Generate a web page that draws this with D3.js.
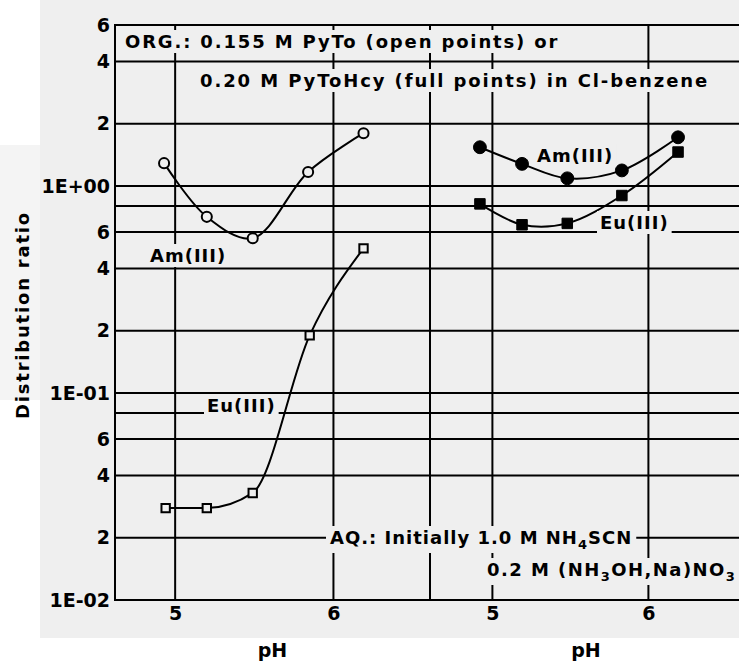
<!DOCTYPE html>
<html>
<head>
<meta charset="utf-8">
<script src="https://cdn.jsdelivr.net/npm/d3@7"></script>
<style>
  body { margin: 0; background: #fff; }
  text { font-family: "DejaVu Sans", sans-serif; font-weight: bold; }
</style>
</head>
<body>
<div class="chartBoard"></div>
<script>
// open points: 0.155 M PyTo
const phOpen = [4.93, 5.20, 5.49, 5.84, 6.19];
const amOpen = [1.29, 0.71, 0.56, 1.17, 1.80];
const phOpenEu = [4.94, 5.20, 5.49, 5.85, 6.19];
const euOpen = [0.0278, 0.0278, 0.0329, 0.19, 0.50];

// full points: 0.20 M PyToHcy
const phFull = [4.92, 5.19, 5.48, 5.83, 6.19];
const amFull = [1.54, 1.28, 1.09, 1.19, 1.72];
const euFull = [0.82, 0.65, 0.66, 0.90, 1.46];

const yTicks = [6, 4, 2, 1, 0.6, 0.4, 0.2, 0.1, 0.06, 0.04, 0.02, 0.01];
const yTickLabels = ["6", "4", "2", "1E+00", "6", "4", "2", "1E-01", "6", "4", "2", "1E-02"];
const yGrid = [4, 2, 1, 0.8, 0.6, 0.4, 0.2, 0.1, 0.08, 0.06, 0.04, 0.02];
const xTicks = [5, 6];

const w = 739, h = 662,
    bg = "#efefef";

const svg = d3.select(".chartBoard")
    .append("svg")
    .attr("width", w)
    .attr("height", h);

svg.append("rect").attr("x", 40).attr("y", 0).attr("width", w - 40).attr("height", 638).attr("fill", bg);
svg.append("rect").attr("x", 0).attr("y", 145).attr("width", 40).attr("height", 255).attr("fill", "#f4f4f4");

const y = d3.scaleLog().domain([0.01, 6]).range([600, 25]);
const xL = d3.scaleLinear().domain([4.62, 6.61]).range([115, 430]);
const xR = d3.scaleLinear().domain([4.6, 6.6]).range([430, 742]);

const left = xL.range()[0], right = xR.range()[1];

// GRID
const grid = svg.append("g").attr("stroke", "#000").attr("stroke-width", 2);
grid.selectAll(".hline")
    .data(yGrid)
    .enter()
    .append("line")
    .attr("x1", left).attr("x2", right)
    .attr("y1", d => y(d)).attr("y2", d => y(d));

const vlines = xTicks.map(d => xL(d)).concat([xL.range()[1]], xTicks.map(d => xR(d)));
grid.selectAll(".vline")
    .data(vlines)
    .enter()
    .append("line")
    .attr("x1", d => d).attr("x2", d => d)
    .attr("y1", y(6)).attr("y2", y(0.01));

// frame
grid.append("rect")
    .attr("x", left).attr("y", y(6))
    .attr("width", right - left).attr("height", y(0.01) - y(6))
    .attr("fill", "none");

// AXES
const yAxis = d3.axisLeft(y)
    .tickValues(yTicks)
    .tickSize(0)
    .tickPadding(5)
    .tickFormat((d, i) => yTickLabels[i]);

svg.append("g")
    .attr("transform", `translate(${left},0)`)
    .call(yAxis)
    .call(g => g.select(".domain").remove())
    .selectAll("text")
    .attr("font-size", 19)
    .attr("font-family", "DejaVu Sans")
    .attr("fill", "#000");

[xL, xR].forEach(sc => {
    svg.append("g")
        .attr("transform", `translate(0,${y(0.01)})`)
        .call(d3.axisBottom(sc).tickValues(xTicks).tickSize(0).tickPadding(7).tickFormat(d3.format("d")))
        .call(g => g.select(".domain").remove())
        .selectAll("text")
        .attr("font-size", 19)
        .attr("font-family", "DejaVu Sans")
        .attr("fill", "#000");

    svg.append("text")
        .attr("x", (sc.range()[0] + Math.min(sc.range()[1], 742)) / 2)
        .attr("y", 657)
        .attr("text-anchor", "middle")
        .attr("font-size", 19)
        .text("pH");
});

svg.append("text")
    .attr("transform", "translate(29,315) rotate(-90)")
    .attr("text-anchor", "middle")
    .attr("font-size", 18)
    .attr("letter-spacing", 1.8)
    .text("Distribution ratio");

// LABELS with masks over the grid
function label(x, yy, parts, pad, ls) {
    const g = svg.append("g");
    const r = g.append("rect").attr("fill", bg);
    const t = g.append("text")
        .attr("x", x).attr("y", yy)
        .attr("font-size", 18)
        .attr("letter-spacing", ls);
    parts.forEach(p => {
        t.append("tspan")
            .attr("font-size", p.sub ? 13 : null)
            .attr("dy", p.sub ? 5 : (p.after ? -5 : null))
            .text(p.s);
    });
    const b = t.node().getBBox();
    r.attr("x", b.x - pad).attr("y", b.y - 1)
        .attr("width", b.width + 2 * pad).attr("height", b.height + 2);
    return g;
}

label(125, 48, [{ s: "ORG.: 0.155 M PyTo (open points) or" }], 6, 1.85);
label(200, 87, [{ s: "0.20 M PyToHcy (full points) in Cl-benzene" }], 5, 1.9);
label(330, 544, [{ s: "AQ.:  Initially 1.0 M NH" }, { s: "4", sub: true }, { s: "SCN", after: true }], 4, 1.0);
label(487, 576, [{ s: "0.2 M (NH" }, { s: "3", sub: true }, { s: "OH,Na)NO", after: true }, { s: "3", sub: true }], 3, 1.45);

// CURVES
const series = [
    { x: xL, ph: phOpen, v: amOpen, sym: "circle", fill: bg, curve: d3.curveCatmullRom.alpha(0.5) },
    { x: xL, ph: phOpenEu, v: euOpen, sym: "square", fill: bg, curve: d3.curveMonotoneX },
    { x: xR, ph: phFull, v: amFull, sym: "circle", fill: "#000", curve: d3.curveCatmullRom.alpha(0.5) },
    { x: xR, ph: phFull, v: euFull, sym: "square", fill: "#000", curve: d3.curveCatmullRom.alpha(0.5) }
];

series.forEach(s => {
    const pts = s.ph.map((p, i) => [s.x(p), y(s.v[i])]);
    svg.append("path")
        .attr("d", d3.line().curve(s.curve)(pts))
        .attr("fill", "none")
        .attr("stroke", "#000")
        .attr("stroke-width", 2);

    const full = s.fill === "#000";
    svg.selectAll(null)
        .data(pts)
        .enter()
        .append("path")
        .attr("transform", d => `translate(${d[0]},${d[1]})`)
        .attr("d", d3.symbol()
            .type(s.sym === "circle" ? d3.symbolCircle : d3.symbolSquare)
            .size(s.sym === "circle" ? (full ? 130 : 80) : (full ? 110 : 70)))
        .attr("fill", s.fill)
        .attr("stroke", "#000")
        .attr("stroke-width", full ? 1 : 2);
});

label(150, 262, [{ s: "Am(III)" }], 3, 1.0);
label(207, 412, [{ s: "Eu(III)" }], 3, 1.0);
label(537, 162, [{ s: "Am(III)" }], 3, 1.0);
label(600, 229, [{ s: "Eu(III)" }], 3, 1.0);
</script>
</body>
</html>
